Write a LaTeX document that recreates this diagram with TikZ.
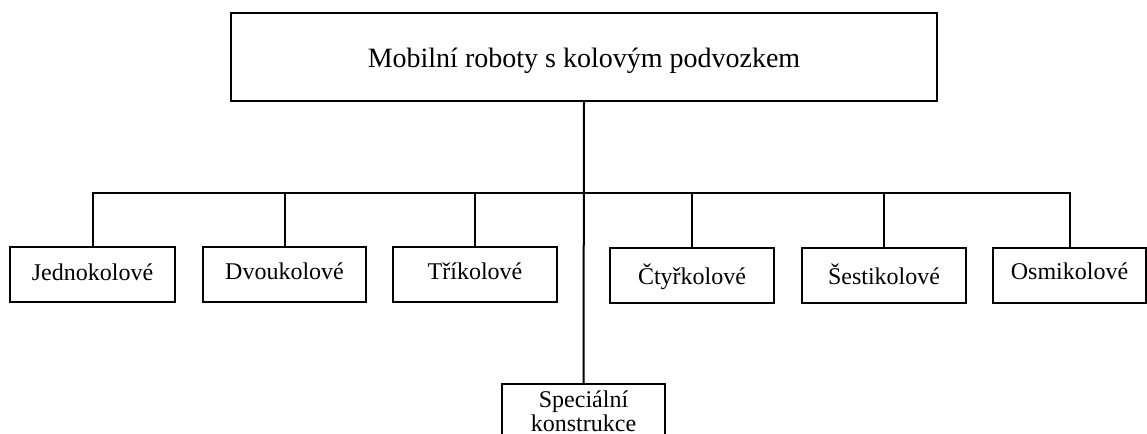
\documentclass[tikz,border=0pt]{standalone}
\usepackage{fontspec}
\setmainfont{Liberation Serif}
\usetikzlibrary{positioning}

\begin{document}
\begin{tikzpicture}[x=0.5pt,y=-0.5pt,
        kolo/.style={draw,line width=1pt,minimum width=82pt,minimum height=27.5pt,inner sep=0pt,
            align=center,font=\fontsize{12}{10.5}\selectfont},
        spoj/.style={line width=1pt}]
                \useasboundingbox (0,0) rectangle (1147,434);

                \node [kolo,minimum width=353pt,minimum height=44pt,font=\fontsize{14}{16}\selectfont,
                    text height=12pt,text depth=2pt]
                    (robot) at (584,57) {Mobilní roboty s kolovým podvozkem};
                \coordinate (bus) at (584,193);

                \foreach \n/\x/\y/\w/\h/\t in {jedno/92.5/274.5/82.5/8.75/Jednokolové,
                        dvou/284.5/274.5/81.5/8.5/Dvoukolové,
                        tri/475/274.5/82/8.5/Tříkolové,
                        ctyr/692/275.5/82/10.25/Čtyřkolové,
                        sesti/884/275.5/82/10.25/Šestikolové,
                        osmi/1069.5/275.5/76.5/7.75/Osmikolové}
                {
                    \node [kolo,minimum width=\w pt,text height=\h pt,text depth=12pt-\h pt] (\n) at (\x,\y) {\t};
                    \draw [spoj] (\n.north) |- (bus);
                }

                \node [kolo,minimum width=81.5pt] (special) at (583.5,411.5) {Speciální\\konstrukce};
                \draw [spoj] (robot.south) -- (special.north);
            \end{tikzpicture}
\end{document}
